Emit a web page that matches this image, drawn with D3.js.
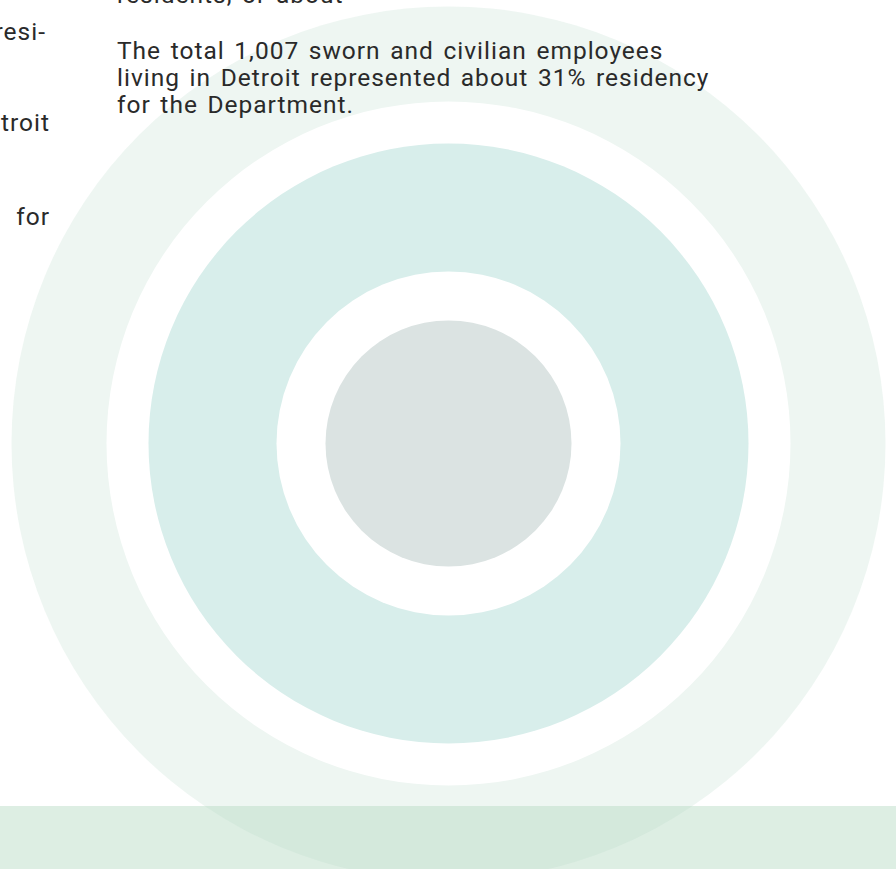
<!DOCTYPE html>
<html>
<head>
<meta charset="utf-8">
<script src="https://cdn.jsdelivr.net/npm/d3@7"></script>
<style>
  html, body { margin: 0; padding: 0; background: #ffffff; }
  svg { display: block; }
  text { font-family: Roboto, "Noto Sans", sans-serif; fill: #2a2a2a; }
</style>
</head>
<body>
<svg id="rings_svg" width="896" height="869"></svg>
<script>
// rings, outermost first (radius units)
var ringNames  = ["all employees", "gap", "residents", "gap", "core"];
var ringValues = [437, 342, 300, 172, 123];
var ringColors = ["#b5d8c6", "#ffffff", "#d8eeeb", "#ffffff", "#dbe3e2"];
var ringAlpha  = [0.23, 1, 1, 1, 1];

// right column paragraph
var paraTop   = ["residents, or about"];
var paraLines = ["The total 1,007 sworn and civilian employees",
                 "living in Detroit represented about 31% residency",
                 "for the Department."];
// left column, only the line ends are visible
var leftEnds  = ["resi-", "Detroit", "for"];

(function () {
    var svg = d3.select("svg#rings_svg"),
        width = +svg.attr("width"),
        height = +svg.attr("height");

    var cx = 448.5, cy = 443.5;
    var r = d3.scaleLinear().domain([0, d3.max(ringValues)]).range([0, 437]);

    // footer band
    svg.append("rect")
        .attr("x", 0).attr("y", 806)
        .attr("width", width).attr("height", height - 806)
        .attr("fill", "#ddeee3");

    svg.append("g").selectAll("circle")
        .data(ringValues)
        .join("circle")
        .attr("cx", cx).attr("cy", cy)
        .attr("r", d => r(d))
        .attr("fill", (d, i) => ringColors[i])
        .attr("fill-opacity", (d, i) => ringAlpha[i])
        .append("title").text((d, i) => ringNames[i]);

    var txt = svg.append("g")
        .style("font-size", "24.5px")
        .style("letter-spacing", "1px")
        .style("word-spacing", "2.5px");

    txt.selectAll("text.top")
        .data(paraTop)
        .join("text").attr("class", "top")
        .attr("x", 117).attr("y", 3)
        .text(d => d);

    txt.selectAll("text.para")
        .data(paraLines)
        .join("text").attr("class", "para")
        .attr("x", 117)
        .attr("y", (d, i) => 59 + i * 27)
        .text(d => d);

    var leftY = [40, 131, 225], leftX = [46, 50, 50];
    txt.selectAll("text.left")
        .data(leftEnds)
        .join("text").attr("class", "left")
        .attr("x", (d, i) => leftX[i])
        .attr("y", (d, i) => leftY[i])
        .attr("text-anchor", "end")
        .text(d => d);
})();
</script>
</body>
</html>
